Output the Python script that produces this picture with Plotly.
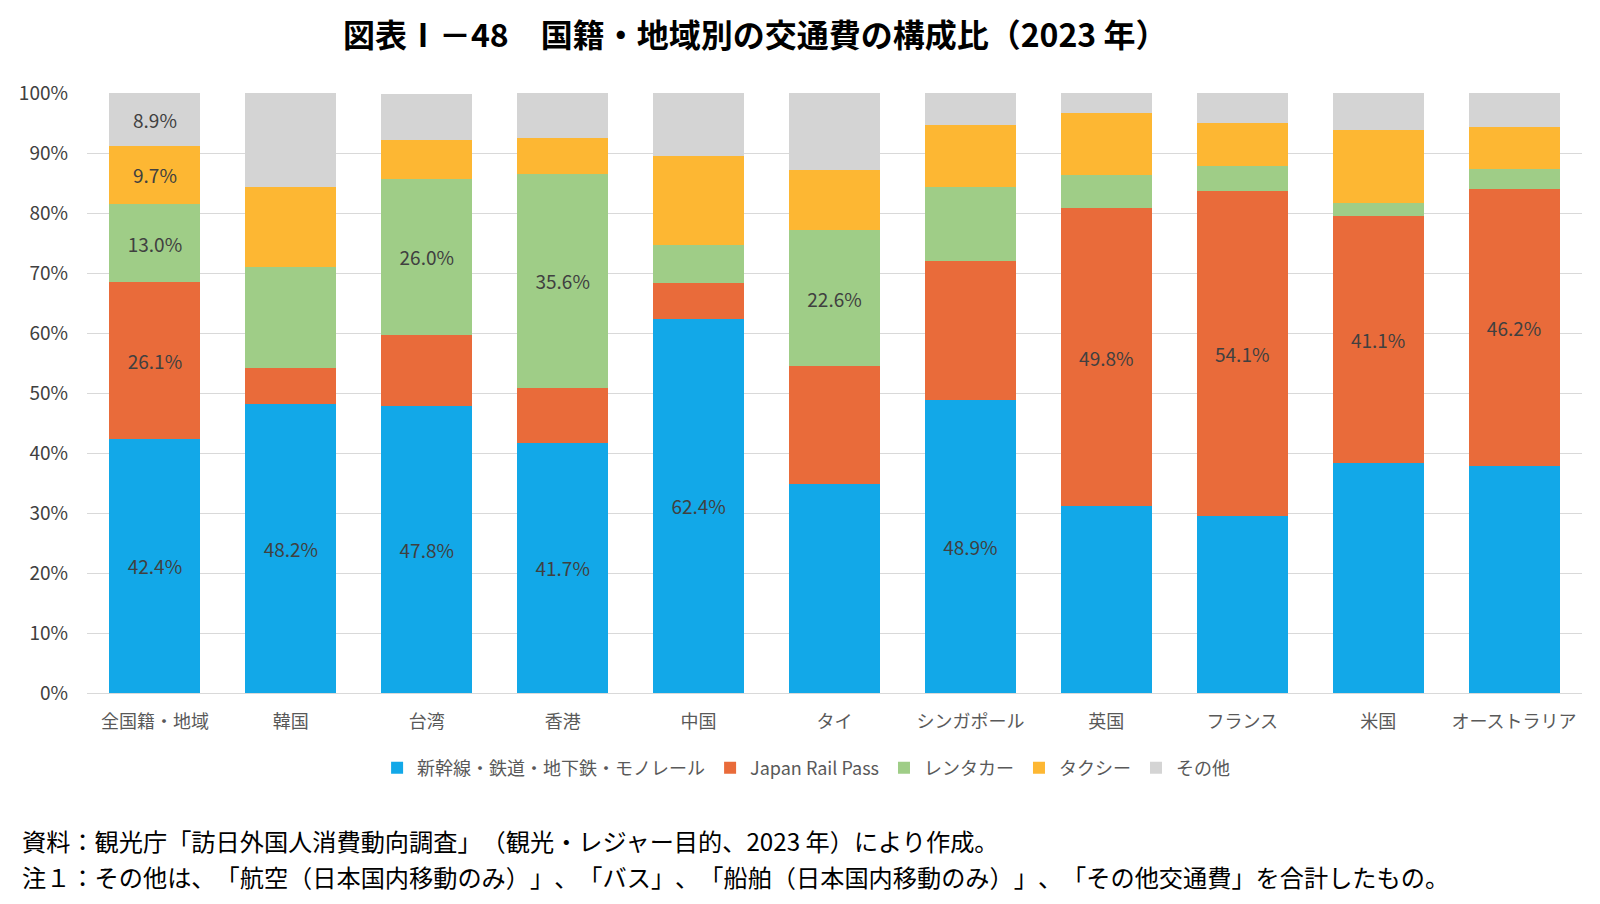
import plotly.graph_objects as go

categories = ["全国籍・地域", "韓国", "台湾", "香港", "中国", "タイ", "シンガポール", "英国", "フランス", "米国", "オーストラリア"]

series_names = ["新幹線・鉄道・地下鉄・モノレール", "Japan Rail Pass", "レンタカー", "タクシー", "その他"]

rail = [42.4, 48.2, 47.8, 41.7, 62.4, 34.9, 48.9, 31.1, 29.5, 38.4, 37.8]
jrp = [26.1, 6.0, 11.9, 9.2, 6.0, 19.6, 23.1, 49.8, 54.1, 41.1, 46.2]
rental = [13.0, 16.8, 26.0, 35.6, 6.3, 22.6, 12.3, 5.5, 4.3, 2.2, 3.3]
taxi = [9.7, 13.3, 6.5, 6.0, 14.8, 10.0, 10.4, 10.3, 7.1, 12.2, 7.0]
other = [8.9, 15.7, 7.7, 7.5, 10.5, 12.9, 5.3, 3.3, 5.0, 6.1, 5.7]

# which segments carry a data label
show_rail = [1, 1, 1, 1, 1, 0, 1, 0, 0, 0, 0]
show_jrp = [1, 0, 0, 0, 0, 0, 0, 1, 1, 1, 1]
show_rental = [1, 0, 1, 1, 0, 1, 0, 0, 0, 0, 0]
show_taxi = [1, 0, 0, 0, 0, 0, 0, 0, 0, 0, 0]
show_other = [1, 0, 0, 0, 0, 0, 0, 0, 0, 0, 0]

colors = ["#12A8E8", "#E96B3A", "#9FCD87", "#FDB733", "#D4D4D4"]

values = [rail, jrp, rental, taxi, other]
shows = [show_rail, show_jrp, show_rental, show_taxi, show_other]

FONT = "Noto Sans CJK JP"

fig = go.Figure()
for name, vals, show, col in zip(series_names, values, shows, colors):
    labels = [f"{v:.1f}%" if s else "" for v, s in zip(vals, show)]
    fig.add_trace(go.Bar(
        x=categories, y=vals, name=name,
        marker=dict(color=col, line=dict(width=0)),
        text=labels, texttemplate="%{text}", textposition="inside",
        insidetextanchor="middle", textangle=0, constraintext="none",
        textfont=dict(family=FONT, size=19, color="#404040"),
        hoverinfo="skip",
    ))

fig.update_layout(
    barmode="stack",
    bargap=0.33,
    width=1600, height=904,
    paper_bgcolor="white", plot_bgcolor="white",
    margin=dict(l=87, r=18, t=93, b=211),
    font=dict(family=FONT, color="#595959"),
    title=dict(
        text="<b>図表Ⅰ－48　国籍・地域別の交通費の構成比（2023 年）</b>",
        x=0.472, xanchor="center", xref="container",
        y=1 - 36 / 904, yanchor="middle", yref="container",
        font=dict(family=FONT, size=32, color="#000000"),
    ),
    xaxis=dict(
        tickfont=dict(family=FONT, size=18, color="#595959"),
        showgrid=False, showline=True, linecolor="#d9d9d9", linewidth=1,
        ticks="", ticklabelstandoff=12,
    ),
    yaxis=dict(
        range=[0, 100], dtick=10, ticksuffix="%",
        tickfont=dict(family=FONT, size=19, color="#404040"),
        showgrid=True, gridcolor="#d9d9d9", gridwidth=1.3,
        zeroline=False, showline=False, ticks="", ticklabelstandoff=18,
    ),
    legend=dict(
        orientation="h", x=0.481, xanchor="center",
        y=-0.125, yanchor="middle",
        font=dict(family=FONT, size=18, color="#595959"),
        itemwidth=30, traceorder="normal",
    ),
    showlegend=True,
)

notes = [
    "資料：観光庁「訪日外国人消費動向調査」（観光・レジャー目的、2023 年）により作成。",
    "注１：その他は、「航空（日本国内移動のみ）」、「バス」、「船舶（日本国内移動のみ）」、「その他交通費」を合計したもの。",
]
note_y = [840, 876]
for t, yy in zip(notes, note_y):
    fig.add_annotation(
        text=t, xref="paper", yref="paper",
        x=(20 - 87) / 1495, xanchor="left", align="left",
        y=(693 - yy) / 600, yanchor="middle",
        showarrow=False, font=dict(family=FONT, size=24.2, color="#000000"),
    )

post = (
    "document.body.style.margin='0';"
    "var s=document.createElement('style');"
    "s.textContent='text{text-spacing-trim:space-all;}';"
    "document.head.appendChild(s);"
)
fig.write_html("out.html", post_script=post, config={"displayModeBar": False})
